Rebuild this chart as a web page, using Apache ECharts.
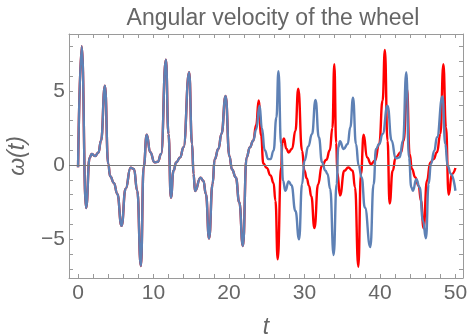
<!DOCTYPE html>
<html>
<head>
<meta charset="utf-8">
<script src="https://cdn.jsdelivr.net/npm/echarts@6/dist/echarts.min.js"></script>
<style>
  html, body { margin: 0; padding: 0; background: #fff; }
  #chart { width: 469px; height: 336px; }
</style>
</head>
<body>
<div id="chart"></div>
<script>
// part where both solutions still agree
const earlyT = [0, 0.48, 1.06, 1.54, 1.8, 2.25, 2.7, 3.04, 3.56, 4.0, 4.25, 4.75, 5.2, 5.76, 6.3, 6.96, 7.4, 7.84, 8.32,
  8.7, 9.1, 9.56, 10.13, 10.57, 11.0, 11.64, 11.98, 12.3, 12.65, 13.0, 13.53, 13.97, 14.72, 15.1, 15.3, 15.5, 16.22,
  16.6, 16.94, 17.36, 17.82, 18.1, 18.6, 19.0, 19.55, 20.05, 20.4, 20.9, 21.36, 21.84, 22.33, 22.77, 23.2];
const earlyW = [-0.15, 8.0, -2.9, 0.5, 0.74, 0.6, 0.85, 1.64, 5.35, 0.07, -0.75, -1.2, -1.95, -4.1, -1.6, -0.18, -0.27, -1.73, -6.8,
  -0.1, 2.05, 0.86, 0.18, 0.22, 0.74, 7.1, 2.1, -2.2, -0.38, 0.18, 0.52, 1.2, 6.25, 1.42, -0.6, -1.75, -0.85,
  -1.06, -1.96, -4.95, -1.28, 0.4, 1.1, 2.1, 4.66, 0.6, -0.3, -0.83, -2.5, -5.45, 0.52, 1.2, 1.64];

const redT = [23.6, 23.93, 24.25, 24.55, 25.0, 25.5, 25.9, 26.15, 26.45, 26.9, 27.07, 27.27, 27.6, 27.9, 28.35, 28.8, 29.17,
  29.68, 30.0, 30.3, 30.6, 30.9, 31.32, 31.8, 32.3, 32.9, 33.35, 33.7, 33.95, 34.2, 34.35, 34.7, 35.28, 35.8, 36.38,
  36.69, 37.13, 37.48, 37.84, 38.28, 38.81, 39.34, 39.9, 40.35, 40.65, 41.0, 41.28, 41.68, 42.08, 42.78, 43.13, 43.58,
  43.93, 44.24, 44.68, 45.12, 45.43, 45.78, 46.22, 46.67, 47.1, 47.55, 48.0, 48.4, 48.74, 49.1, 49.54, 50];
const redW = [2.7, 4.35, 2.0, 0.1, -0.2, -0.7, -1.2, -2.4, -6.35, -0.16, 1.5, 1.8, 1.1, 0.85, 1.1, 2.32, 5.14,
  0.97, -0.38, -0.9, -1.4, -2.1, -4.25, -1.3, -0.05, 0.36, 1.0, 2.5, 6.8, 1.5, -0.5, -2.05, -0.38, -0.16, -0.38,
  -1.5, -6.85, -0.6, 2.05, 0.52, 0.07, 0.29, 1.42, 4.35, 7.75, 1.64, -2.6, -0.38, 0.52, 0.86, 1.64, 5.14,
  0.74, -0.27, -0.83, -1.4, -2.4, -4.26, -1.06, 0.18, 0.4, 0.86, 2.1, 6.8, 2.55, -2.0, -0.6, -0.2];

const blueT = [23.6, 24.05, 24.35, 24.73, 25.2, 25.5, 25.9, 26.28, 26.55, 26.9, 27.16, 27.47, 27.9, 28.27, 28.8, 29.28,
  29.68, 30.0, 30.5, 31.0, 31.46, 31.9, 32.33, 32.77, 33.05, 33.4, 33.86, 34.26, 34.48, 34.7, 35.19, 35.72, 36.07,
  36.43, 36.82, 37.18, 37.57, 38.0, 38.72, 39.16, 39.47, 39.9, 40.35, 41.0, 41.55, 42.08, 42.6, 43.05, 43.49, 43.84,
  44.15, 44.37, 44.81, 45.25, 45.7, 46.09, 46.45, 46.75, 47.2, 47.55, 48.28, 48.65, 48.96, 49.4, 50];
const blueW = [2.4, 4.0, 2.5, 1.0, 0.4, 0.4, 0.97, 3.2, 6.33, 1.42, -1.06, -1.73, -1.1, -1.35, -3.1, -5.0,
  -1.28, 0.29, 1.25, 2.1, 4.39, 1.87, 0.18, -0.38, -0.6, -1.6, -6.06, -1.28, 1.2, 1.6, 1.08, 1.42, 2.55,
  4.53, 1.42, -0.05, -0.83, -2.86, -5.52, -1.28, 1.08, 1.42, 2.1, 4.0, 1.64, 0.45, 0.52, 1.64, 6.26, 0.52,
  -1.5, -1.73, -0.95, -1.5, -3.76, -4.93, -1.28, 0.07, 0.97, 1.87, 4.62, 1.42, -0.05, -0.6, -1.73];

const xTicks = [0, 2, 4, 6, 8, 10, 12, 14, 16, 18, 20, 22, 24, 26, 28, 30, 32, 34, 36, 38, 40, 42, 44, 46, 48, 50];
const xLabels = [0, 10, 20, 30, 40, 50];
const yTicks = [-7, -6, -5, -4, -3, -2, -1, 0, 1, 2, 3, 4, 5, 6, 7, 8];
const yLabels = [-5, 0, 5];

const toPairs = (ts, ws) => ts.map((t, i) => [t, ws[i]]);
const redData = toPairs(earlyT.concat(redT), earlyW.concat(redW));
const blueData = toPairs(earlyT.concat(blueT), earlyW.concat(blueW));

const font = 'Liberation Sans, Arial, sans-serif';
const frame = '#9a9a9a';
const textCol = '#666';

const minus = (v) => (v < 0 ? '\u2212' + Math.abs(v) : String(v));

const xBase = (pos, labels) => ({
  type: 'value',
  min: -1.2,
  max: 51,
  position: pos,
  axisLine: { show: true, onZero: false, lineStyle: { color: frame, width: 1 } },
  axisTick: { show: true, inside: true, length: 4, customValues: xTicks, lineStyle: { color: frame } },
  axisLabel: labels
    ? { customValues: xLabels, color: textCol, fontSize: 21, fontFamily: font, margin: 5 }
    : { show: false },
  splitLine: { show: false }
});
const yBase = (pos, labels) => ({
  type: 'value',
  min: -7.61,
  max: 8.83,
  position: pos,
  axisLine: { show: true, onZero: false, lineStyle: { color: frame, width: 1 } },
  axisTick: { show: true, inside: true, length: 4, customValues: yTicks, lineStyle: { color: frame } },
  axisLabel: labels
    ? { customValues: yLabels, color: textCol, fontSize: 21, fontFamily: font, margin: 4, formatter: minus }
    : { show: false },
  splitLine: { show: false }
});

const xBottom = Object.assign(xBase('bottom', true), {
  name: 't',
  nameLocation: 'middle',
  nameGap: 38,
  nameTextStyle: { fontStyle: 'italic', fontSize: 23, color: textCol, fontFamily: font }
});
const yLeft = Object.assign(yBase('left', true), {
  name: 'ω(t)',
  nameLocation: 'middle',
  nameGap: 40,
  nameTextStyle: { fontStyle: 'italic', fontSize: 23, color: textCol, fontFamily: font }
});

const chart = echarts.init(document.getElementById('chart'));
const option = {
  animation: false,
  backgroundColor: '#fff',
  title: {
    text: 'Angular velocity of the wheel',
    left: 268,
    textAlign: 'center',
    top: 2,
    textStyle: { fontSize: 23, fontWeight: 'normal', color: textCol, fontFamily: font }
  },
  grid: { left: 69, right: 6, top: 34, bottom: 58, containLabel: false, outerBoundsMode: 'none' },
  xAxis: [xBottom, xBase('top', false)],
  yAxis: [yLeft, yBase('right', false)],
  series: [
    {
      type: 'line',
      name: 'red',
      data: redData,
      showSymbol: false,
      smooth: 0.5,
      smoothMonotone: 'x',
      lineStyle: { color: '#ff0000', width: 2.4 },
      markLine: {
        silent: true,
        symbol: 'none',
        label: { show: false },
        lineStyle: { color: '#777', width: 1, type: 'solid' },
        data: [{ yAxis: 0 }]
      },
      z: 2
    },
    {
      type: 'line',
      name: 'blue',
      data: blueData,
      showSymbol: false,
      smooth: 0.5,
      smoothMonotone: 'x',
      lineStyle: { color: '#5e81b5', width: 2.4 },
      z: 3
    }
  ]
};
chart.setOption(option);
</script>
</body>
</html>
